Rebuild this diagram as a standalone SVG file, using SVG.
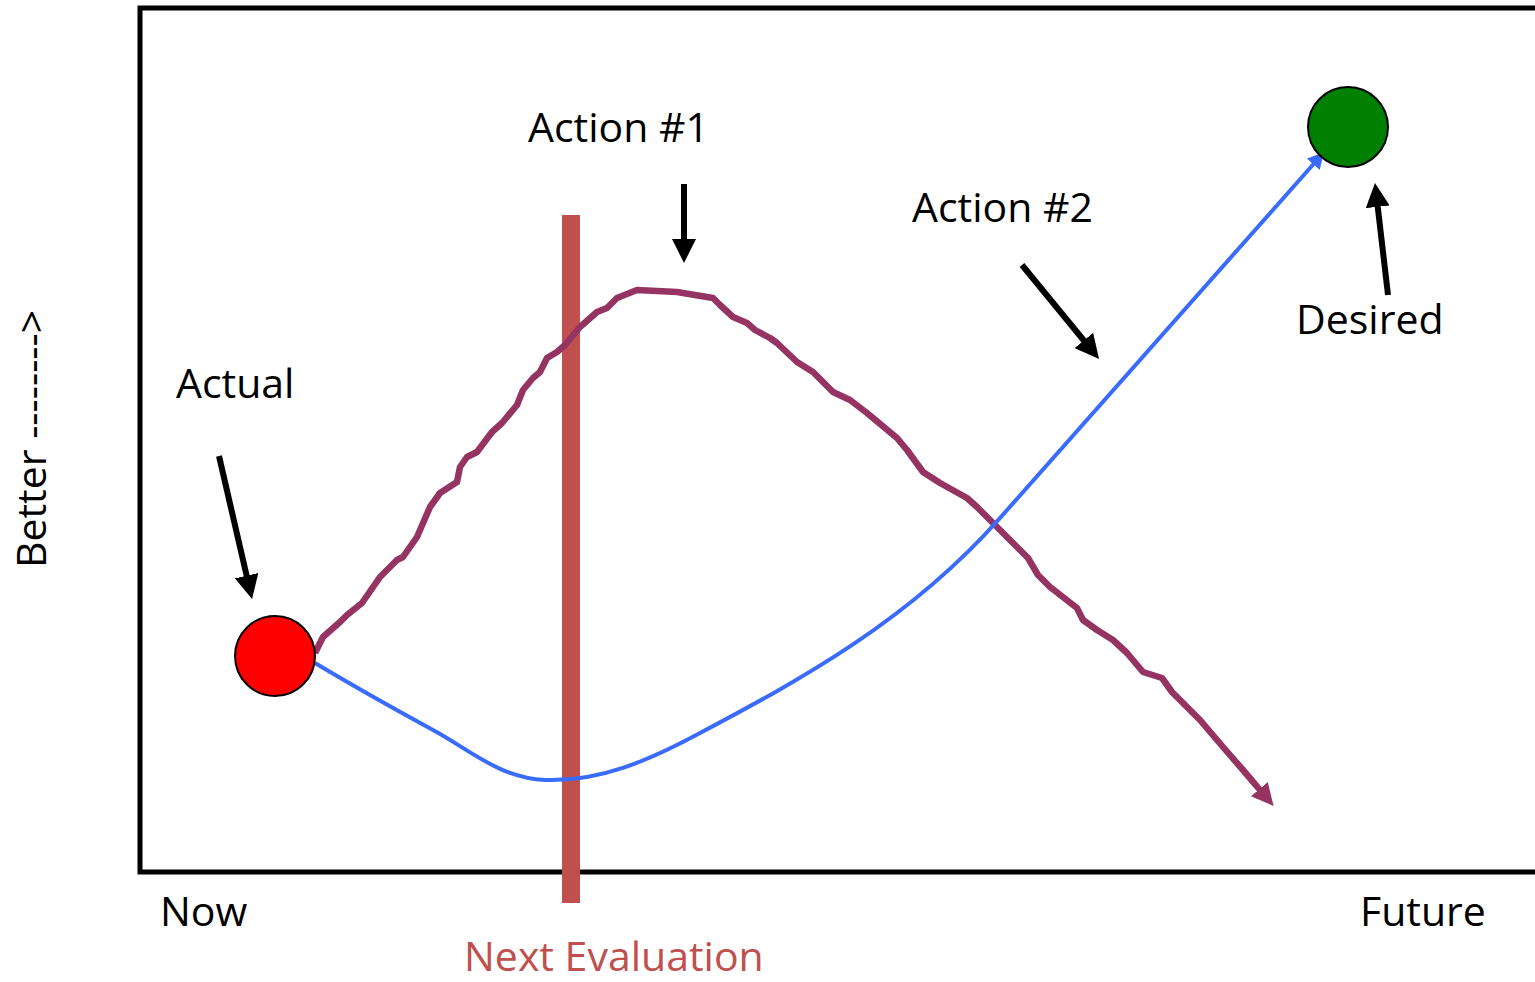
<svg xmlns="http://www.w3.org/2000/svg" width="1535" height="982" viewBox="0 0 1535 982">
<style>
text{font-family:"Open Sans","Noto Sans","Liberation Sans",sans-serif;font-size:41px;fill:#000}
.eval{fill:#c0504d}
.blk{stroke:#000;stroke-width:6;fill:none;marker-end:url(#ah)}
.node{stroke:#000;stroke-width:2}
</style>
<defs>
<marker id="ah" markerUnits="userSpaceOnUse" markerWidth="24" markerHeight="24" viewBox="0 0 24 24" refX="2" refY="12" orient="auto"><path d="M0,0 L24,12 L0,24 z" fill="#000"/></marker>
<marker id="ahp" markerUnits="userSpaceOnUse" markerWidth="22" markerHeight="22" viewBox="0 0 22 22" refX="1" refY="11" orient="auto"><path d="M0,0 L22,11 L0,22 z" fill="#953462"/></marker>
<marker id="ahb" markerUnits="userSpaceOnUse" markerWidth="16" markerHeight="17" viewBox="0 0 16 17" refX="1" refY="8.5" orient="auto"><path d="M0,0 L16,8.5 L0,17 z" fill="#3a6bff"/></marker>
</defs>
<g id="frame"><path d="M1535,8 H140 V872 H1535" fill="none" stroke="#000" stroke-width="5"/></g>
<g id="evaluation"><rect x="562" y="215" width="18" height="688" fill="#c0504d"/></g>
<g id="connectors">
<path d="M315,653 L323,637 L340,622 L347,615 L362,603 L380,577 L397,560 L403,557 L417,537 L430,507 L440,493 L457,482 L460,467 L467,457 L477,452 L492,432 L502,423 L517,405 L523,390 L533,378 L540,372 L547,358 L557,352 L565,345 L580,327 L597,312 L607,308 L617,298 L637,290 L677,292 L713,298 L720,305 L733,317 L747,323 L755,330 L770,338 L777,343 L797,362 L813,372 L833,392 L850,400 L867,413 L897,438 L907,450 L923,472 L940,483 L967,498 L977,507 L993,523 L1010,540 L1028,558 L1038,575 L1050,587 L1077,608 L1083,620 L1097,630 L1113,640 L1127,653 L1143,672 L1162,678 L1172,692 L1200,720 L1223,747 L1243,770 L1260,790" fill="none" stroke="#953462" stroke-width="6.5" stroke-linejoin="round" marker-end="url(#ahp)"/>
<path d="M315,663 C360,690 400,712 433,730 C470,750 500,778 545,780 C600,782 650,760 700,733 C800,680 910,620 1000,518 L1314,163.5" fill="none" stroke="#3a6bff" stroke-width="4" marker-end="url(#ahb)"/>
<line class="blk" x1="219" y1="456" x2="247.1" y2="577.6"/>
<line class="blk" x1="684" y1="184" x2="684" y2="241"/>
<line class="blk" x1="1022" y1="265" x2="1085.1" y2="342"/>
<line class="blk" x1="1388" y1="295" x2="1377.5" y2="204.8"/>
</g>
<g id="actual"><circle class="node" cx="275" cy="656" r="40" fill="#ff0000"/></g>
<g id="desired"><circle class="node" cx="1348" cy="127" r="40" fill="#008000"/></g>
<g id="labels">
<text x="528" y="142">Action #1</text>
<text x="912" y="222">Action #2</text>
<text x="176" y="398">Actual</text>
<text x="1296" y="334">Desired</text>
<text x="160" y="926">Now</text>
<text x="1360" y="926">Future</text>
<text class="eval" x="464" y="971">Next Evaluation</text>
<text transform="translate(46,568) rotate(-90)">Better --------&gt;</text>
</g>
</svg>
